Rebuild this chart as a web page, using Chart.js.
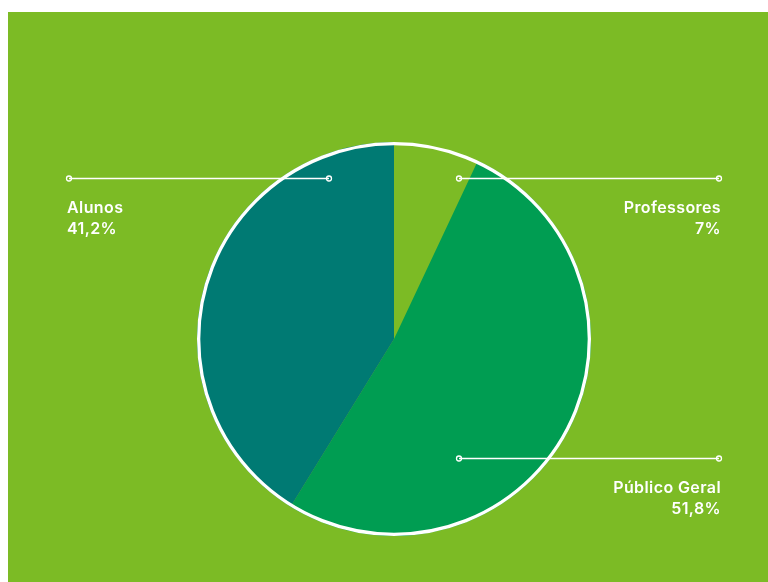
<!DOCTYPE html>
<html>
<head>
<meta charset="utf-8">
<script src="https://cdn.jsdelivr.net/npm/chart.js@4/dist/chart.umd.min.js"></script>
<style>
  html, body { margin: 0; padding: 0; background: #ffffff; }
  #wrap { position: relative; width: 768px; height: 582px; }
  canvas { display: block; }
</style>
</head>
<body>
<div id="wrap"><canvas id="c" width="768" height="582"></canvas></div>
<script>
// Data
const categories = ["Professores", "Público Geral", "Alunos"];
const values = [7, 51.8, 41.2];
const valueLabels = ["7%", "51,8%", "41,2%"];
const sliceColors = ["#7CBB25", "#009D52", "#007A73"];

const BG = "#7CBB25";
const FONT = "600 16px Inter, 'Noto Sans', sans-serif";

const bgPlugin = {
  id: "bg",
  beforeDraw(chart) {
    const ctx = chart.ctx;
    ctx.save();
    ctx.fillStyle = BG;
    ctx.fillRect(8, 12, chart.width - 8, chart.height - 12);
    ctx.restore();
  }
};

const decoPlugin = {
  id: "deco",
  afterDatasetsDraw(chart) {
    const ctx = chart.ctx;
    const meta = chart.getDatasetMeta(0);
    const arc0 = meta.data[0];
    const cx = arc0.x, cy = arc0.y, r = arc0.outerRadius;
    // outer white ring
    ctx.save();
    ctx.strokeStyle = "#ffffff";
    ctx.lineWidth = 3.3;
    ctx.beginPath();
    ctx.arc(cx, cy, r - 1.65, 0, Math.PI * 2);
    ctx.stroke();

    // leader lines + labels
    const k = r / 196;
    const specs = [
      { i: 0, side: 1, dy: -160 },   // Professores
      { i: 1, side: 1, dy: 118 },    // Público Geral
      { i: 2, side: -1, dy: -160 }   // Alunos
    ];
    specs.forEach(s => {
      const y = Math.round(cy + s.dy * k) + 0.5;
      const xIn = cx + s.side * 65;
      const xOut = cx + s.side * 325;
      ctx.strokeStyle = "#ffffff";
      ctx.lineWidth = 1.3;
      ctx.beginPath();
      ctx.moveTo(xIn, y);
      ctx.lineTo(xOut, y);
      ctx.stroke();
      [xIn, xOut].forEach(x => {
        ctx.beginPath();
        ctx.arc(x, y, 2.5, 0, Math.PI * 2);
        ctx.stroke();
      });
      ctx.fillStyle = "#ffffff";
      ctx.font = FONT;
      ctx.letterSpacing = "0.4px";
      ctx.textBaseline = "alphabetic";
      ctx.textAlign = s.side > 0 ? "right" : "left";
      const tx = s.side > 0 ? xOut + 2 : xOut - 2;
      ctx.fillText(categories[s.i], tx, y + 34);
      ctx.fillText(valueLabels[s.i], tx, y + 55);
    });
    ctx.restore();
  }
};

new Chart(document.getElementById("c"), {
  type: "pie",
  data: {
    labels: categories,
    datasets: [{
      data: values,
      backgroundColor: sliceColors,
      borderWidth: 0,
      hoverOffset: 0
    }]
  },
  options: {
    responsive: false,
    animation: false,
    events: [],
    layout: { padding: { top: 142, bottom: 46, left: 99, right: 79 } },
    plugins: {
      legend: { display: false },
      tooltip: { enabled: false },
      title: { display: false }
    }
  },
  plugins: [bgPlugin, decoPlugin]
});
</script>
</body>
</html>
